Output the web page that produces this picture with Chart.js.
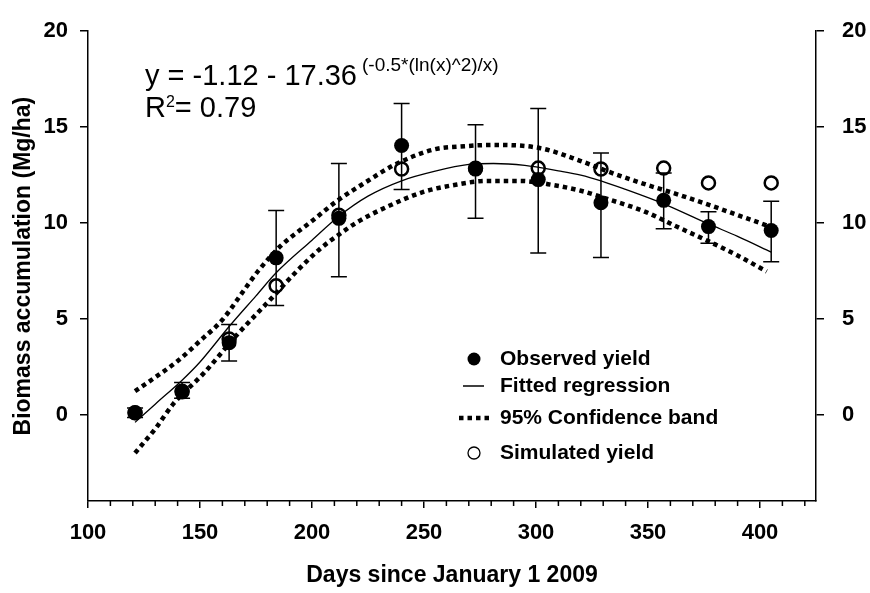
<!DOCTYPE html>
<html>
<head>
<meta charset="utf-8">
<script src="https://cdn.jsdelivr.net/npm/chart.js@4.4.0/dist/chart.umd.min.js"></script>
<style>
  html, body { margin: 0; padding: 0; background: #fff; }
  #wrap { width: 870px; height: 593px; }
</style>
</head>
<body>
<div id="wrap"><canvas id="grafico" width="870" height="593"></canvas></div>
<script>
const FONT = "'Liberation Sans', Arial, Helvetica, sans-serif";

// observed yield (filled circles) + error bars
const obsDays = [121, 142, 163, 184, 212, 240, 273, 301, 329, 357, 377, 405];
const obsYield = [0.1, 1.23, 3.75, 8.18, 10.24, 14.04, 12.81, 12.26, 11.05, 11.18, 9.81, 9.61];
const obsHigh = [0.35, 1.68, 4.7, 10.65, 13.1, 16.23, 15.12, 15.97, 13.65, 12.6, 10.59, 11.13];
const obsLow = [-0.15, 0.86, 2.8, 5.7, 7.19, 11.75, 10.24, 8.43, 8.2, 9.7, 8.94, 7.98];

// simulated yield (open circles)
const simDays = [121, 142, 163, 184, 212, 240, 273, 301, 329, 357, 377, 405];
const simYield = [0.1, 1.2, 3.95, 6.72, 10.4, 12.81, 12.85, 12.86, 12.81, 12.86, 12.09, 12.09];

// fitted regression
const fitDays = [121, 130, 142, 150, 163, 175, 184, 200, 212, 225, 240, 255, 270, 281, 295, 310, 320, 329, 340, 357, 377, 390, 405];
const fitYield = [-0.4, 0.55, 1.8, 2.75, 4.6, 6.2, 7.4, 9.1, 10.35, 11.4, 12.2, 12.7, 13.05, 13.1, 13.0, 12.72, 12.5, 12.2, 11.75, 11.0, 9.95, 9.3, 8.48];

// 95% confidence band
const upperDays = [121, 130, 140, 150, 160, 170, 176, 186, 200, 211, 225, 236, 254, 268, 281, 302, 320, 335, 350, 364, 379, 391, 404];
const upperBand = [1.23, 1.95, 2.8, 3.85, 4.95, 6.55, 7.5, 8.8, 10.1, 11.13, 12.2, 12.98, 13.82, 14.0, 14.07, 13.9, 13.23, 12.56, 11.97, 11.46, 10.87, 10.37, 9.83];
const lowerDays = [121, 124, 130, 138, 152, 166, 182, 192, 204, 212, 220, 234, 250, 263, 278, 293, 308, 320, 333, 348, 363, 376, 390, 403];
const lowerBand = [-2.0, -1.58, -0.74, 0.55, 2.2, 4.1, 6.08, 7.34, 8.69, 9.39, 10.03, 10.87, 11.63, 11.97, 12.19, 12.19, 11.97, 11.68, 11.21, 10.62, 9.8, 9.1, 8.3, 7.47];

const xTicks = [100, 150, 200, 250, 300, 350, 400];
const xMinorTicks = [110, 120, 130, 140, 160, 170, 180, 190, 210, 220, 230, 240, 260, 270, 280, 290, 310, 320, 330, 340, 360, 370, 380, 390, 410, 420];
const yTicks = [0, 5, 10, 15, 20];

const legendLabels = ['Observed yield', 'Fitted regression', '95% Confidence band', 'Simulated yield'];
const eqMain = 'y = -1.12 - 17.36';
const eqSup = '(-0.5*(ln(x)^2)/x)';
const r2Text = '= 0.79';

function pontos(xs, ys) {
  return xs.map((v, i) => ({ x: v, y: ys[i] }));
}

// error bars, minor ticks, legend and equation
const extras = {
  id: 'extras',
  beforeDatasetsDraw(chart) {
    const { ctx, scales: { x, y } } = chart;
    ctx.save();
    ctx.strokeStyle = '#000';
    ctx.lineWidth = 1.5;
    obsDays.forEach((d, i) => {
      const px = x.getPixelForValue(d);
      const top = y.getPixelForValue(obsHigh[i]);
      const bot = y.getPixelForValue(obsLow[i]);
      ctx.beginPath();
      ctx.moveTo(px, top); ctx.lineTo(px, bot);
      ctx.moveTo(px - 8, top); ctx.lineTo(px + 8, top);
      ctx.moveTo(px - 8, bot); ctx.lineTo(px + 8, bot);
      ctx.stroke();
    });
    ctx.restore();
  },
  afterDraw(chart) {
    const { ctx, scales: { x } } = chart;
    ctx.save();
    // minor ticks
    ctx.strokeStyle = '#000';
    ctx.lineWidth = 1.5;
    xMinorTicks.forEach(v => {
      const px = x.getPixelForValue(v);
      ctx.beginPath();
      ctx.moveTo(px, x.top);
      ctx.lineTo(px, x.top + 5);
      ctx.stroke();
    });

    // legend
    const rows = [359, 386, 418, 453];
    const sx = 474, tx = 500;
    ctx.fillStyle = '#000';
    ctx.font = 'bold 21px ' + FONT;
    ctx.textBaseline = 'middle';
    ctx.textAlign = 'left';
    legendLabels.forEach((t, i) => ctx.fillText(t, tx, rows[i]));

    ctx.beginPath();
    ctx.arc(sx, rows[0], 6.5, 0, Math.PI * 2);
    ctx.fill();

    ctx.lineWidth = 1.5;
    ctx.beginPath();
    ctx.moveTo(463, rows[1]); ctx.lineTo(484, rows[1]);
    ctx.stroke();

    ctx.lineWidth = 4.5;
    ctx.setLineDash([4.5, 4]);
    ctx.beginPath();
    ctx.moveTo(459, rows[2]); ctx.lineTo(489, rows[2]);
    ctx.stroke();
    ctx.setLineDash([]);

    ctx.lineWidth = 1.3;
    ctx.beginPath();
    ctx.arc(sx, rows[3], 6, 0, Math.PI * 2);
    ctx.stroke();

    // equation
    ctx.textBaseline = 'alphabetic';
    ctx.font = '29px ' + FONT;
    ctx.fillText(eqMain, 145, 85);
    const w = ctx.measureText(eqMain).width;
    ctx.fillText('R', 145, 117);
    const wr = ctx.measureText('R').width;
    ctx.font = '19px ' + FONT;
    ctx.fillText(eqSup, 145 + w + 5, 71);
    ctx.font = '16px ' + FONT;
    ctx.fillText('2', 145 + wr, 107);
    const w2 = ctx.measureText('2').width;
    ctx.font = '29px ' + FONT;
    ctx.fillText(r2Text, 145 + wr + w2, 117);
    ctx.restore();
  }
};

const eixoY = {
  type: 'linear',
  min: -4.5,
  max: 20,
  afterBuildTicks: s => { s.ticks = yTicks.map(v => ({ value: v })); },
  grid: { drawOnChartArea: false, drawTicks: true, tickLength: 8, color: '#000', lineWidth: 1.5 },
  border: { display: true, color: '#000', width: 1.5 },
  ticks: { color: '#000', font: { family: FONT, size: 22, weight: 'bold' }, padding: 12 }
};

const ctx = document.getElementById('grafico').getContext('2d');
const grafico = new Chart(ctx, {
  type: 'scatter',
  data: {
    datasets: [
      {
        label: legendLabels[3], data: pontos(simDays, simYield), order: 0,
        pointRadius: 6.5, pointBorderWidth: 2.5, pointBorderColor: '#000',
        pointBackgroundColor: 'rgba(0,0,0,0)', showLine: false
      },
      {
        label: legendLabels[0], data: pontos(obsDays, obsYield), order: 1,
        pointRadius: 7.5, pointBorderWidth: 0, pointBackgroundColor: '#000',
        pointBorderColor: '#000', showLine: false
      },
      {
        label: legendLabels[1], data: pontos(fitDays, fitYield), order: 2,
        showLine: true, borderColor: '#000', borderWidth: 1.3, pointRadius: 0,
        cubicInterpolationMode: 'monotone'
      },
      {
        label: legendLabels[2], data: pontos(upperDays, upperBand), order: 3,
        showLine: true, borderColor: '#000', borderWidth: 4.5, borderDash: [4.5, 4],
        borderCapStyle: 'butt', pointRadius: 0, cubicInterpolationMode: 'monotone'
      },
      {
        label: legendLabels[2] + ' (lower)', data: pontos(lowerDays, lowerBand), order: 3,
        showLine: true, borderColor: '#000', borderWidth: 4.5, borderDash: [4.5, 4],
        borderCapStyle: 'butt', pointRadius: 0, cubicInterpolationMode: 'monotone'
      }
    ]
  },
  options: {
    responsive: false,
    animation: false,
    devicePixelRatio: 1,
    layout: { padding: { top: 16, left: 0, right: 0, bottom: 0 } },
    plugins: { legend: { display: false }, tooltip: { enabled: false } },
    scales: {
      x: {
        type: 'linear',
        position: 'bottom',
        min: 100,
        max: 425,
        afterFit: s => { s.height = 92; },
        afterBuildTicks: s => { s.ticks = xTicks.map(v => ({ value: v })); },
        grid: { drawOnChartArea: false, drawTicks: true, tickLength: 7, color: '#000', lineWidth: 1.5 },
        border: { display: true, color: '#000', width: 1.5 },
        ticks: { color: '#000', font: { family: FONT, size: 22, weight: 'bold' }, padding: 12, maxRotation: 0 },
        title: {
          display: true, text: 'Days since January 1 2009', color: '#000',
          font: { family: FONT, size: 23, weight: 'bold' }, padding: { top: 0, bottom: 4 }
        }
      },
      y: Object.assign({}, eixoY, {
        position: 'left',
        afterFit: s => { s.width = 88; },
        title: {
          display: true, text: 'Biomass accumulation (Mg/ha)', color: '#000',
          font: { family: FONT, size: 23, weight: 'bold' }, padding: { top: 10, bottom: 0 }
        }
      }),
      y2: Object.assign({}, eixoY, {
        position: 'right',
        afterFit: s => { s.width = 54; },
        ticks: { color: '#000', font: { family: FONT, size: 22, weight: 'bold' }, padding: 18 }
      })
    }
  },
  plugins: [extras]
});
</script>
</body>
</html>
